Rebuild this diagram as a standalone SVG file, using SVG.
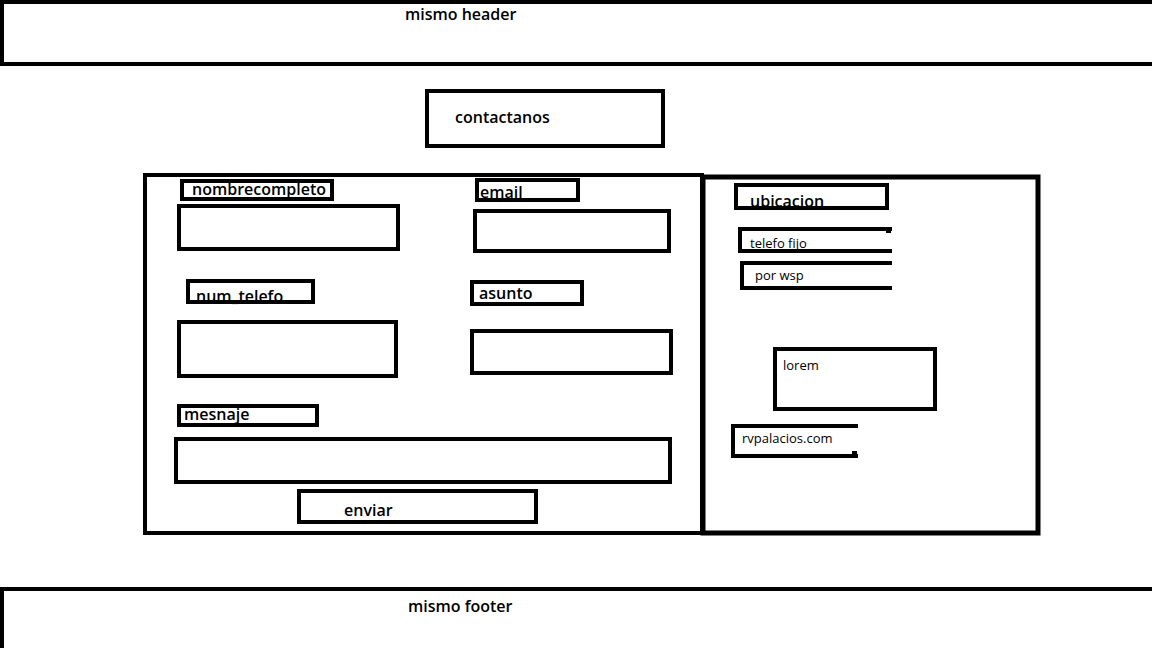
<svg xmlns="http://www.w3.org/2000/svg" width="1152" height="648" viewBox="0 0 1152 648">
<style>
.b{fill:none;stroke:#000;stroke-width:4}
.t{font-family:"Open Sans","Liberation Sans",sans-serif;font-size:16px;font-weight:600;fill:#000}
.s{font-family:"Open Sans","Liberation Sans",sans-serif;font-size:13px;fill:#000}
.l{fill:none;stroke:#000;stroke-width:4;stroke-linecap:square}
</style>
<rect width="1152" height="648" fill="#fff"/>
<g id="header">
<rect class="b" x="2" y="2" width="1152" height="62"/>
<text class="t" x="405" y="20" font-weight="500">mismo header</text>
</g>
<g id="contactanos">
<rect class="b" x="427" y="91" width="236" height="55"/>
<text class="t" x="455" y="123" font-weight="500">contactanos</text>
</g>
<g id="form-panel">
<rect class="b" x="145" y="175" width="557" height="358"/>
</g>
<g id="nombrecompleto">
<text class="t" x="192" y="195">nombrecompleto</text>
<rect class="b" x="182" y="181" width="150" height="18"/>
<rect class="b" x="179" y="206" width="219" height="43"/>
</g>
<g id="email">
<text class="t" x="480" y="198">email</text>
<rect class="b" x="477" y="180" width="101" height="20"/>
<rect class="b" x="475" y="211" width="194" height="40"/>
</g>
<g id="num_telefo">
<text class="t" x="196" y="302">num_telefo</text>
<rect class="b" x="188" y="281" width="125" height="21"/>
<rect class="b" x="179" y="322" width="217" height="54"/>
</g>
<g id="asunto">
<text class="t" x="479" y="299">asunto</text>
<rect class="b" x="472" y="282" width="110" height="22"/>
<rect class="b" x="472" y="331" width="199" height="42"/>
</g>
<g id="mesnaje">
<text class="t" x="184" y="420">mesnaje</text>
<rect class="b" x="179" y="406" width="138" height="19"/>
<rect class="b" x="176" y="439" width="494" height="43"/>
</g>
<g id="enviar">
<rect class="b" x="299" y="491" width="237" height="31"/>
<text class="t" x="344" y="516" font-weight="500">enviar</text>
</g>
<g id="info-panel">
<rect x="703" y="177" width="335" height="356" fill="none" stroke="#000" stroke-width="5"/>
</g>
<g id="ubicacion">
<text class="t" x="750" y="207">ubicacion</text>
<rect class="b" x="736" y="185" width="151" height="23"/>
</g>
<g id="telefo-fijo">
<path class="l" d="M890 229 H740 V251 H890"/>
<path d="M886 227 H891 V233 H886 Z" fill="#000"/>
<text class="s" x="750" y="248">telefo fijo</text>
</g>
<g id="por-wsp">
<path class="l" d="M890 263 H742 V288 H890"/>
<text class="s" x="755" y="280">por wsp</text>
</g>
<g id="lorem">
<rect class="b" x="775" y="349" width="160" height="60"/>
<text class="s" x="783" y="370">lorem</text>
</g>
<g id="rvpalacios">
<path class="l" d="M856 426 H733 V456 H856"/>
<path d="M852 451 H857 V458 H852 Z" fill="#000"/>
<text class="s" x="742" y="443">rvpalacios.com</text>
</g>
<g id="footer">
<rect class="b" x="2" y="589" width="1152" height="70"/>
<text class="t" x="408" y="612" font-weight="500">mismo footer</text>
</g>
<g id="connectors"></g>
</svg>
